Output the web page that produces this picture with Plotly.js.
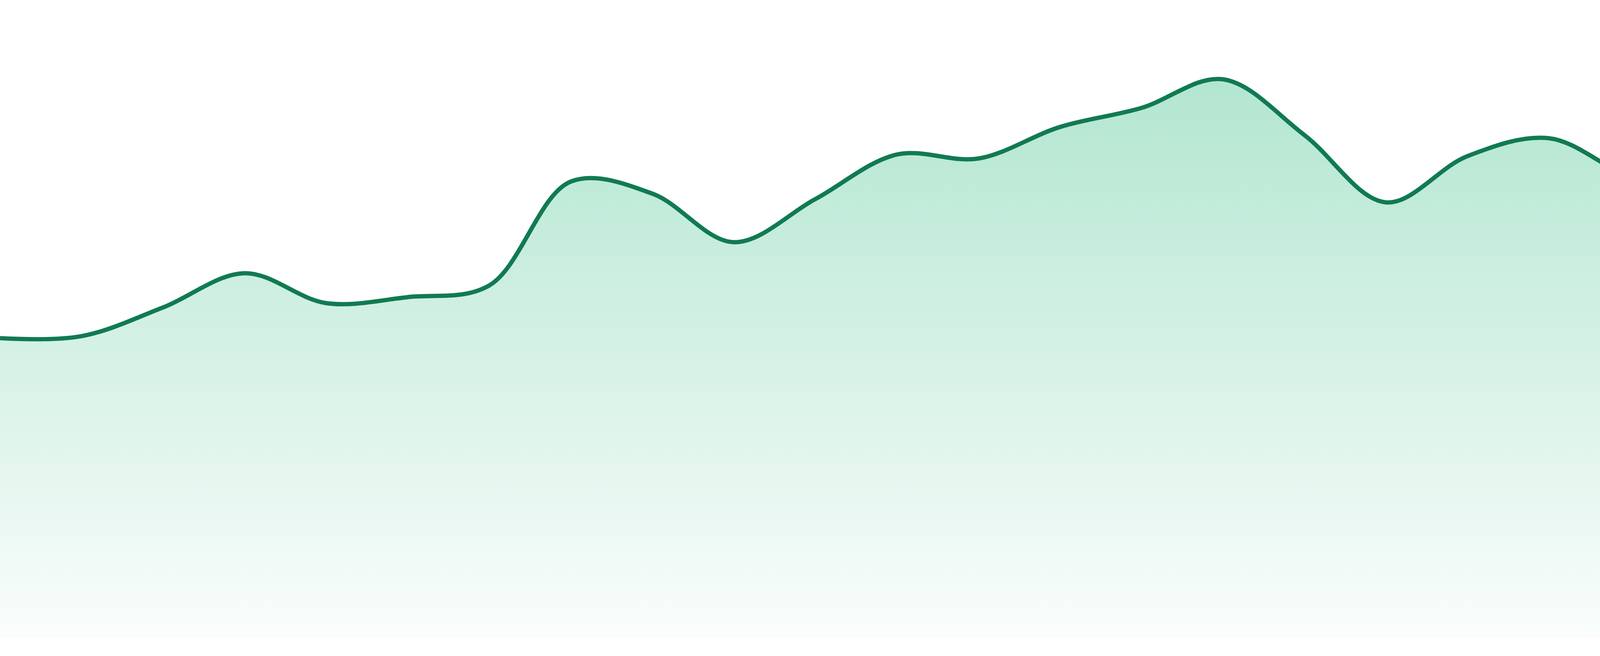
<!DOCTYPE html>
<html>
<head>
<meta charset="utf-8">
<script src="https://cdn.plot.ly/plotly-3.0.1.min.js"></script>
<style>
  html, body { margin: 0; padding: 0; background: #ffffff; }
  #chart { width: 4800px; height: 1680px; }
</style>
</head>
<body>
<div id="chart"></div>
<script>
// hourly buckets, values
const hours = [
  "00:00", "01:00", "02:00", "03:00", "04:00", "05:00", "06:00", "07:00",
  "08:00", "09:00", "10:00", "11:00", "12:00", "13:00", "14:00", "15:00",
  "16:00", "17:00", "18:00", "19:00", "20:00", "21:00", "22:00", "23:00",
];
const values = [
  75.1, 75.6, 82.8, 91.4, 83.9, 85.4, 88.3, 114.4,
  111.4, 99.2, 110.0, 121.2, 120.2, 128.1, 132.9, 140.1,
  126.1, 109.2, 120.8, 125.3, 115.8, 112.5, 123.0, 117.9,
];

const lineColor = "#117a52";
const maxValue = Math.max(...values);

const trace = {
  type: "scatter",
  mode: "lines",
  x: hours,
  y: values,
  line: { color: lineColor, width: 11, shape: "spline", smoothing: 1 },
  fill: "tozeroy",
  fillgradient: {
    type: "vertical",
    start: 0,
    stop: maxValue,
    colorscale: [[0, "#fafdfc"], [1, "#b2e6d0"]],
  },
  hoverinfo: "skip",
};

const layout = {
  width: 4800,
  height: 1680,
  margin: { l: 0, r: 0, t: 0, b: 48, pad: 0 },
  paper_bgcolor: "#ffffff",
  plot_bgcolor: "#ffffff",
  showlegend: false,
  xaxis: { type: "category", range: [0, hours.length - 1], visible: false, fixedrange: true },
  yaxis: { range: [0, 160], visible: false, fixedrange: true },
};

Plotly.newPlot("chart", [trace], layout, { staticPlot: true, displayModeBar: false });
</script>
</body>
</html>
